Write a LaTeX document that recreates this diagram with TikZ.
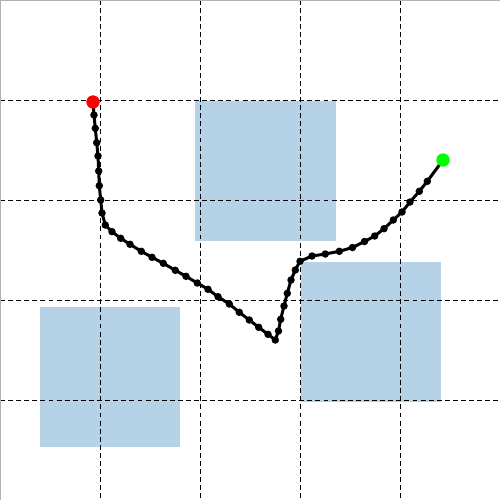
\documentclass[tikz,border=0pt]{standalone}
\usetikzlibrary{calc}
\definecolor{obst}{RGB}{31,119,180}
\definecolor{startc}{RGB}{255,0,0}
\definecolor{goalc}{RGB}{0,255,0}
\tikzset{
  gridline/.style={black, line width=0.25pt, dash pattern=on 1.4pt off 0.9pt},
  obstacle/.style={fill=obst, fill opacity=0.33, draw=none},
  pathline/.style={black, line width=0.85pt, line join=round},
  wp/.style={circle, fill=black, inner sep=0pt, minimum size=0.075cm},
  endpt/.style={circle, inner sep=0pt, minimum size=0.13cm},
}
\begin{document}
\begin{tikzpicture}[x=0.01cm, y=-0.01cm]
\useasboundingbox (0,0) rectangle (500,500);
\fill[white] (0,0) rectangle (500,500);
% obstacles
\fill[obstacle] (195,101) rectangle (336,241);
\fill[obstacle] (301,262) rectangle (441,402);
\fill[obstacle] (40,307) rectangle (180,447);
% grid
\foreach \v in {100,200,300,400} {
  \draw[gridline] (\v,0) -- (\v,500);
  \draw[gridline] (0,\v) -- (500,\v);
}
% frame
\draw[gray!60, line width=0.5pt] (0.6,500) -- (0.6,0.4) -- (500,0.4);
% path
\def\pts{(94,115),(95.3,128.3),(96.7,142.7),(98,156),(98.7,171),(99.3,185.7),(100.7,200),(102,213),(105.3,225),(112,231.7),(120.7,238.3),(130,244.3),(141.3,251.3),(152,257.3),(163.3,263.3),(175.3,270.3),(186,276.3),(197.3,283),(208,289.3),(218,296.7),(229.3,304),(239.3,312.3),(249.3,320),(258.7,327.3),(268,334.3),(275.3,340),(278.5,331),(280.7,319.3),(284,306),(287.3,293.3),(291,280),(295.3,270),(300,261.3),(312,256),(325.3,254),(339.3,251.3),(352.5,247.5),(364.5,241.5),(374.7,236),(384,228.7),(393.3,220),(402,212),(410,202),(419.3,191.3),(427.3,181.3)}
\node[endpt, fill=startc] (s) at (93,102) {};
\node[endpt, fill=goalc] (g) at (443,160) {};
\draw[pathline] (s.center)
  \foreach \p in \pts { -- \p } -- (g.center);
\foreach \p [count=\i] in \pts { \node[wp] (w\i) at \p {}; }
\node[endpt, fill=startc] at (s) {};
\node[endpt, fill=goalc] at (g) {};
\end{tikzpicture}
\end{document}
